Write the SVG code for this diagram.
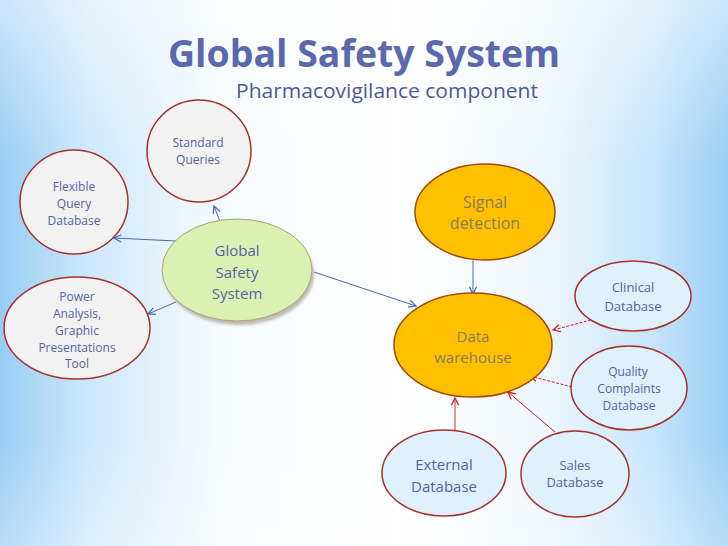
<svg xmlns="http://www.w3.org/2000/svg" width="728" height="546" viewBox="0 0 728 546">
<defs>
<linearGradient id="bg" x1="0" y1="0" x2="1" y2="0">
<stop offset="0" stop-color="#98cdf4"/>
<stop offset="0.12" stop-color="#cde8fb"/>
<stop offset="0.3" stop-color="#f6fbff"/>
<stop offset="0.55" stop-color="#ffffff"/>
<stop offset="0.75" stop-color="#eef7fe"/>
<stop offset="0.9" stop-color="#c6e4fa"/>
<stop offset="1" stop-color="#98cdf4"/>
</linearGradient>
<linearGradient id="vg" x1="0" y1="0" x2="0" y2="1">
<stop offset="0" stop-color="#ffffff" stop-opacity="0.5"/>
<stop offset="0.3" stop-color="#ffffff" stop-opacity="0"/>
<stop offset="0.8" stop-color="#ffffff" stop-opacity="0"/>
<stop offset="1" stop-color="#ffffff" stop-opacity="0.3"/>
</linearGradient>
<marker id="ab" viewBox="0 0 10 10" refX="9" refY="5" markerWidth="9" markerHeight="9" markerUnits="userSpaceOnUse" orient="auto">
<path d="M1,1 L9,5 L1,9" fill="none" stroke="#4a68b8" stroke-width="1.4"/>
</marker>
<marker id="ar" viewBox="0 0 10 10" refX="9" refY="5" markerWidth="9" markerHeight="9" markerUnits="userSpaceOnUse" orient="auto">
<path d="M1,1 L9,5 L1,9" fill="none" stroke="#d02020" stroke-width="1.4"/>
</marker>
<filter id="sh" x="-20%" y="-20%" width="140%" height="150%">
<feGaussianBlur stdDeviation="1.5"/>
</filter>
</defs>
<style>
text{font-family:"Open Sans","Liberation Sans",sans-serif;text-anchor:middle;fill:#5563a3}
.gray{fill:#f2f2f2;stroke:#a8302c;stroke-width:1.5}
.blue{fill:#dff1fc;stroke:#a8302c;stroke-width:1.5}
.org{fill:#ffc000;stroke:#a04a10;stroke-width:1.5}
.s12{font-size:12px}
.s13{font-size:13px}
.s15{font-size:15px}
.s16{font-size:16px}
.ot{fill:#8a7c5a}
.cb{stroke:#4a68b8;stroke-width:1;fill:none;marker-end:url(#ab)}
.cr{stroke:#d02020;stroke-width:1;fill:none;marker-end:url(#ar)}
.cp{stroke:#e87070;stroke-width:1.5;fill:none;marker-end:url(#ar)}
</style>
<rect width="728" height="546" fill="url(#bg)"/>
<rect width="728" height="546" fill="url(#vg)"/>
<g id="title">
<text x="364" y="67" style="font-size:38px;font-weight:bold;fill:#5a68ae" textLength="392" lengthAdjust="spacingAndGlyphs">Global Safety System</text>
<text x="387" y="98" style="font-size:20px;fill:#4c5a96" textLength="302" lengthAdjust="spacingAndGlyphs">Pharmacovigilance component</text>
</g>
<g id="connectors">
<line class="cb" x1="222" y1="227" x2="214" y2="206"/>
<line class="cb" x1="176" y1="241" x2="114" y2="238"/>
<line class="cb" x1="176" y1="302" x2="148" y2="314"/>
<line class="cb" x1="314" y1="272" x2="416" y2="306"/>
<line class="cb" x1="473" y1="260" x2="473" y2="294"/>
<line class="cr" x1="591" y1="320" x2="553" y2="330" stroke-dasharray="3,1.5"/>
<line class="cr" x1="572" y1="387" x2="530" y2="376" stroke-dasharray="3,1.5"/>
<line class="cr" x1="555" y1="432" x2="508" y2="392"/>
<line class="cp" x1="455" y1="431" x2="455" y2="398"/>
</g>
<g id="standard-queries">
<ellipse class="gray" cx="199" cy="151" rx="52" ry="51"/>
<text class="s12" x="198" y="147">Standard</text>
<text class="s12" x="198" y="164">Queries</text>
</g>
<g id="flexible-query-database">
<ellipse class="gray" cx="74" cy="202" rx="54" ry="52"/>
<text class="s12" x="74" y="191">Flexible</text>
<text class="s12" x="74" y="208">Query</text>
<text class="s12" x="74" y="225">Database</text>
</g>
<g id="power-analysis">
<ellipse class="gray" cx="77" cy="328" rx="73" ry="51"/>
<text class="s12" x="77" y="301">Power</text>
<text class="s12" x="77" y="318">Analysis,</text>
<text class="s12" x="77" y="335">Graphic</text>
<text class="s12" x="77" y="352">Presentations</text>
<text class="s12" x="77" y="368">Tool</text>
</g>
<g id="global-safety-system">
<ellipse cx="239" cy="274" rx="75" ry="51" fill="#9a8a80" opacity="0.6" filter="url(#sh)"/>
<ellipse cx="237" cy="270" rx="75" ry="51" fill="#d9f2b3" stroke="#b0a070" stroke-width="1"/>
<text class="s15" x="237" y="256">Global</text>
<text class="s15" x="237" y="278">Safety</text>
<text class="s15" x="237" y="299">System</text>
</g>
<g id="signal-detection">
<ellipse class="org" cx="485" cy="212" rx="70" ry="48"/>
<text class="s16 ot" x="485" y="208">Signal</text>
<text class="s16 ot" x="485" y="229">detection</text>
</g>
<g id="data-warehouse">
<ellipse class="org" cx="473" cy="345" rx="79" ry="52"/>
<text class="s15 ot" x="473" y="342">Data</text>
<text class="s15 ot" x="473" y="363">warehouse</text>
</g>
<g id="clinical-database">
<ellipse class="blue" cx="633" cy="296" rx="58" ry="35"/>
<text class="s13" x="633" y="292">Clinical</text>
<text class="s13" x="633" y="311">Database</text>
</g>
<g id="quality-complaints-database">
<ellipse class="blue" cx="629" cy="388" rx="58" ry="42"/>
<text class="s12" x="628" y="376">Quality</text>
<text class="s12" x="629" y="393">Complaints</text>
<text class="s12" x="629" y="410">Database</text>
</g>
<g id="external-database">
<ellipse class="blue" cx="444" cy="473" rx="62" ry="43"/>
<text class="s15" x="444" y="470">External</text>
<text class="s15" x="444" y="492">Database</text>
</g>
<g id="sales-database">
<ellipse class="blue" cx="575" cy="474" rx="54" ry="43"/>
<text class="s13" x="575" y="470">Sales</text>
<text class="s13" x="575" y="487">Database</text>
</g>
</svg>
